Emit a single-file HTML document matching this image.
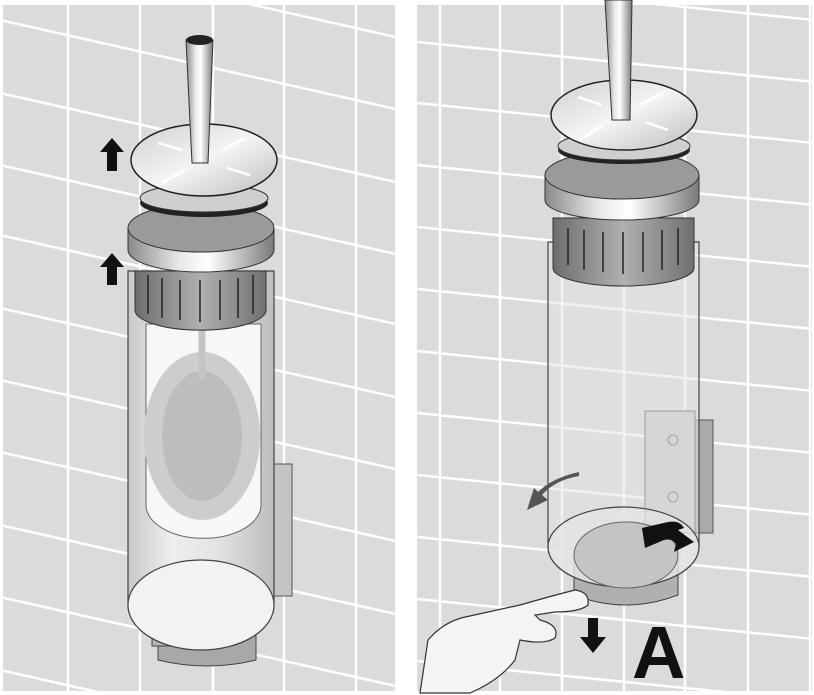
<!DOCTYPE html>
<html><head><meta charset="utf-8"><style>html,body{margin:0;padding:0;background:#fff;overflow:hidden;width:814px;height:695px}svg{display:block}</style></head>
<body>
<svg width="814" height="695" viewBox="0 0 814 695" xmlns="http://www.w3.org/2000/svg">
<defs>
<clipPath id="cl"><rect x="3" y="5" width="392" height="686"/></clipPath>
<clipPath id="cr"><rect x="417" y="5" width="395" height="686"/></clipPath>
<linearGradient id="metal" x1="0" x2="1" y1="0" y2="0">
<stop offset="0" stop-color="#8a8a8a"/><stop offset="0.35" stop-color="#e8e8e8"/><stop offset="0.55" stop-color="#ffffff"/><stop offset="1" stop-color="#7a7a7a"/></linearGradient>
<linearGradient id="band" x1="0" x2="1"><stop offset="0" stop-color="#6e6e6e"/><stop offset="0.5" stop-color="#b0b0b0"/><stop offset="1" stop-color="#707070"/></linearGradient>
<linearGradient id="glass" x1="0" x2="1"><stop offset="0" stop-color="#c8c8c8"/><stop offset="0.3" stop-color="#eeeeee"/><stop offset="0.6" stop-color="#e4e4e4"/><stop offset="1" stop-color="#bdbdbd"/></linearGradient>
<linearGradient id="disk" x1="0" x2="1" y1="0" y2="1"><stop offset="0" stop-color="#d0d0d0"/><stop offset="0.5" stop-color="#f4f4f4"/><stop offset="1" stop-color="#bcbcbc"/></linearGradient>
</defs>
<rect width="814" height="695" fill="#fff"/>
<g clip-path="url(#cl)">
<rect x="3" y="5" width="392" height="686" fill="#dbdbdb"/>
<g stroke="#fff" stroke-width="2.5">
<line x1="68" y1="0" x2="68" y2="695"/><line x1="140" y1="0" x2="140" y2="695"/><line x1="213" y1="0" x2="213" y2="695"/><line x1="284" y1="0" x2="284" y2="695"/><line x1="356" y1="0" x2="356" y2="695"/>
<line x1="0" y1="-52" x2="400" y2="38"/><line x1="0" y1="20" x2="400" y2="110"/><line x1="0" y1="93" x2="400" y2="183"/><line x1="0" y1="165" x2="400" y2="255"/><line x1="0" y1="235" x2="400" y2="325"/><line x1="0" y1="308" x2="400" y2="398"/><line x1="0" y1="380" x2="400" y2="470"/><line x1="0" y1="452" x2="400" y2="542"/><line x1="0" y1="525" x2="400" y2="615"/><line x1="0" y1="597" x2="400" y2="687"/><line x1="0" y1="670" x2="400" y2="760"/>
</g></g>
<g clip-path="url(#cr)">
<rect x="417" y="5" width="395" height="686" fill="#dbdbdb"/>
<g stroke="#fff" stroke-width="2.5">
<line x1="440" y1="0" x2="440" y2="695"/><line x1="500" y1="0" x2="500" y2="695"/><line x1="562" y1="0" x2="562" y2="695"/><line x1="624" y1="0" x2="624" y2="695"/><line x1="685" y1="0" x2="685" y2="695"/><line x1="748" y1="0" x2="748" y2="695"/><line x1="810" y1="0" x2="810" y2="695"/>
<line x1="417" y1="-20" x2="814" y2="20"/><line x1="417" y1="42" x2="814" y2="82"/><line x1="417" y1="103" x2="814" y2="143"/><line x1="417" y1="165" x2="814" y2="205"/><line x1="417" y1="227" x2="814" y2="267"/><line x1="417" y1="289" x2="814" y2="329"/><line x1="417" y1="351" x2="814" y2="391"/><line x1="417" y1="413" x2="814" y2="453"/><line x1="417" y1="475" x2="814" y2="515"/><line x1="417" y1="537" x2="814" y2="577"/><line x1="417" y1="599" x2="814" y2="639"/><line x1="417" y1="661" x2="814" y2="701"/>
</g></g>

<!-- LEFT OBJECT -->
<rect x="271" y="464" width="21" height="132" fill="#c4c4c4" stroke="#555" stroke-width="1"/>
<path d="M158 620 L256 620 L256 660 Q207 672 158 660 Z" fill="#a8a8a8" stroke="#444"/>
<rect x="152" y="632" width="20" height="14" fill="#b5b5b5" stroke="#444"/>
<path d="M128 271 L274 271 L274 605 A73 45 0 0 1 128 605 Z" fill="url(#glass)" stroke="#444" stroke-width="1.2"/>
<ellipse cx="201" cy="605" rx="73" ry="45" fill="#f2f2f2" stroke="#444" stroke-width="1.2"/>
<path d="M146 324 L261 324 L261 505 A57 33 0 0 1 146 505 Z" fill="#f7f7f7" stroke="#666"/>
<ellipse cx="202" cy="436" rx="58" ry="84" fill="#cdcdcd"/>
<ellipse cx="202" cy="436" rx="40" ry="65" fill="#bdbdbd"/>
<line x1="202" y1="324" x2="202" y2="380" stroke="#c4c4c4" stroke-width="7"/>
<path d="M135 271 L266 271 L266 310 A65 20 0 0 1 135 310 Z" fill="url(#band)" stroke="#333"/>
<g stroke="#222" stroke-width="1.5"><line x1="148" y1="275" x2="148" y2="314"/><line x1="162" y1="278" x2="162" y2="318"/><line x1="180" y1="280" x2="180" y2="320"/><line x1="200" y1="280" x2="200" y2="322"/><line x1="220" y1="280" x2="220" y2="320"/><line x1="238" y1="278" x2="238" y2="318"/><line x1="253" y1="275" x2="253" y2="314"/></g>
<path d="M128 228 L274 228 L274 250 A73 22 0 0 1 128 250 Z" fill="url(#metal)" stroke="#333"/>
<ellipse cx="201" cy="228" rx="73" ry="24" fill="#9a9a9a" stroke="#333"/>
<ellipse cx="204" cy="203" rx="64" ry="14" fill="#222"/>
<ellipse cx="204" cy="198" rx="64" ry="14" fill="#cfcfcf" stroke="#333"/>
<ellipse cx="204" cy="160" rx="73" ry="36" fill="url(#disk)" stroke="#222" stroke-width="1.5"/>
<g stroke="#fff" stroke-width="2.5"><line x1="158" y1="143" x2="182" y2="150"/><line x1="222" y1="150" x2="245" y2="138"/><line x1="162" y1="183" x2="185" y2="170"/><line x1="227" y1="168" x2="250" y2="175"/></g>
<path d="M186 40 L213 40 L208 163 L192 163 Z" fill="url(#metal)" stroke="#333"/>
<ellipse cx="199.5" cy="40" rx="13.5" ry="5" fill="#222"/>
<path d="M112 138 L124 152 L117 152 L117 171 L107 171 L107 152 L100 152 Z" fill="#111"/>
<path d="M112 253 L124 267 L117 267 L117 285 L107 285 L107 267 L100 267 Z" fill="#111"/>

<!-- RIGHT OBJECT -->
<rect x="645" y="411" width="50" height="122" fill="#c8c8c8" stroke="#555"/>
<rect x="695" y="420" width="18" height="113" fill="#aaa" stroke="#555"/>
<circle cx="673" cy="440" r="5" fill="none" stroke="#666"/><circle cx="673" cy="497" r="5" fill="none" stroke="#666"/>
<path d="M574 560 L678 560 L678 595 Q626 615 574 595 Z" fill="#b0b0b0" stroke="#444"/>
<path d="M548 242 L699 242 L699 547 A75.5 40 0 0 1 548 547 Z" fill="#e4e4e4" fill-opacity="0.5" stroke="#444" stroke-width="1.2"/>
<ellipse cx="623.5" cy="547" rx="75.5" ry="40" fill="#e4e4e4" fill-opacity="0.7" stroke="#444" stroke-width="1.2"/>
<ellipse cx="626" cy="555" rx="52" ry="33" fill="#c4c4c4" stroke="#666"/>
<path d="M553 218 L694 218 L694 268 A70.5 18 0 0 1 553 268 Z" fill="url(#band)" stroke="#333"/>
<g stroke="#222" stroke-width="1.5"><line x1="568" y1="228" x2="568" y2="265"/><line x1="584" y1="230" x2="584" y2="270"/><line x1="603" y1="232" x2="603" y2="272"/><line x1="623" y1="232" x2="623" y2="274"/><line x1="643" y1="232" x2="643" y2="272"/><line x1="662" y1="230" x2="662" y2="270"/><line x1="678" y1="228" x2="678" y2="265"/></g>
<path d="M545 175 L699 175 L699 200 A77 20 0 0 1 545 200 Z" fill="url(#metal)" stroke="#333"/>
<ellipse cx="622" cy="175" rx="77" ry="24" fill="#9a9a9a" stroke="#333"/>
<ellipse cx="624" cy="150" rx="66" ry="14" fill="#222"/>
<ellipse cx="624" cy="146" rx="66" ry="14" fill="#cfcfcf" stroke="#333"/>
<ellipse cx="624" cy="115" rx="73" ry="35" fill="url(#disk)" stroke="#222" stroke-width="1.5"/>
<g stroke="#fff" stroke-width="2.5"><line x1="578" y1="97" x2="602" y2="105"/><line x1="640" y1="105" x2="664" y2="92"/><line x1="580" y1="140" x2="602" y2="126"/><line x1="645" y1="122" x2="668" y2="130"/></g>
<path d="M605 0 L632 0 L630 120 L612 120 Z" fill="url(#metal)" stroke="#333"/>
<path d="M579 476 Q555 480 542 495 L548 500 L527 510 L534 488 L538 492 Q552 478 579 472 Z" fill="#555"/>
<path d="M642 528 L668 522 Q680 520 684 528 L678 530 L694 542 L674 552 L676 544 Q672 538 664 540 L645 548 Z" fill="#111"/>
<path d="M420 693 L428 640 Q445 620 470 616 L520 605 Q555 595 575 590 Q590 592 588 605 Q580 612 555 612 L535 615 L540 620 Q560 625 555 638 Q545 645 520 640 L515 660 Q500 680 470 693 Z" fill="#f4f4f4" stroke="#333" stroke-width="1.2"/>
<path d="M598 618 L598 637 L606 637 L593 653 L580 637 L588 637 L588 618 Z" fill="#111"/>
<text x="632" y="678" font-family="Liberation Sans, sans-serif" font-size="74" font-weight="bold" fill="#111">A</text>
</svg>
</body></html>
